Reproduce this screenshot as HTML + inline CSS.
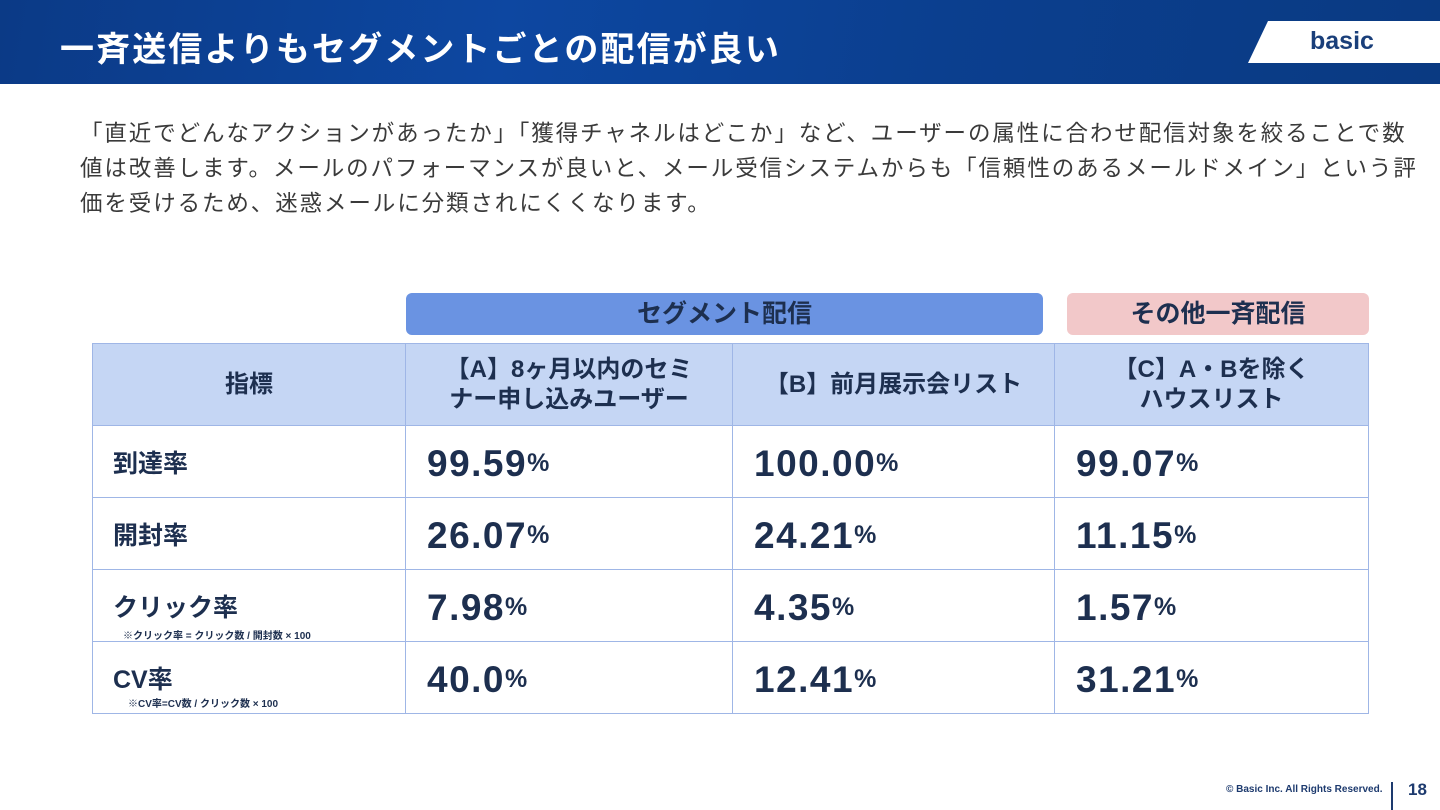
<!DOCTYPE html>
<html><head><meta charset="utf-8"><style>
*{margin:0;padding:0;box-sizing:border-box}
body{width:1440px;height:810px;background:#fff;position:relative;overflow:hidden;font-family:"Liberation Sans","Noto Sans CJK JP",sans-serif}
.hd{position:absolute;left:0;top:0;width:1440px;height:84px;background:linear-gradient(100deg,#0b3a86 0%,#0d47a1 35%,#0b3f8f 65%,#0a3a82 100%)}
.title{position:absolute;left:60px;top:22px;color:#fff;font-size:34px;font-weight:bold;letter-spacing:2.1px;white-space:nowrap}
.logo{position:absolute;left:1248px;top:21px;width:192px;height:42px;background:#fff;clip-path:polygon(20px 0,100% 0,100% 100%,0 100%)}
.logo span{position:absolute;left:62px;top:6px;font-size:25px;font-weight:bold;color:#1a3f7a}
.body{position:absolute;left:80px;top:116px;font-size:22.5px;line-height:35px;color:#3a3a3a;letter-spacing:1.9px;white-space:nowrap}
.abs{position:absolute}
.bar{position:absolute;top:293px;height:42px;border-radius:6px;font-weight:bold;font-size:25px;color:#1d2f4f;text-align:center;line-height:42px}
.cell{position:absolute;border:1px solid #9fb6e6;display:flex;align-items:center;color:#1d2f4f;font-weight:bold}
.hc{background:#c5d6f4;justify-content:center;text-align:center;font-size:24px;line-height:30px}
.v{font-size:37px;padding-left:21px;padding-top:4px;letter-spacing:1.5px}
.v small{font-size:25px;letter-spacing:0}
.lab{font-size:25px;padding-left:20px}
.note{position:absolute;font-size:10px;color:#1d2f4f;font-weight:bold}
</style></head><body>
<div class="hd"></div>
<div class="title">一斉送信よりもセグメントごとの配信が良い</div>
<div class="logo"><span>basic</span></div>
<div class="body">「直近でどんなアクションがあったか」「獲得チャネルはどこか」など、ユーザーの属性に合わせ配信対象を絞ることで数<br>値は改善します。メールのパフォーマンスが良いと、メール受信システムからも「信頼性のあるメールドメイン」という評<br>価を受けるため、迷惑メールに分類されにくくなります。</div>
<div class="bar" style="left:406px;width:637px;background:#6a93e2">セグメント配信</div>
<div class="bar" style="left:1067px;width:302px;background:#f2c8c9">その他一斉配信</div>

<div class="cell hc" style="left:92px;top:343px;width:314px;height:83px">指標</div>
<div class="cell hc" style="left:405px;top:343px;width:328px;height:83px">【A】8ヶ月以内のセミ<br>ナー申し込みユーザー</div>
<div class="cell hc" style="left:732px;top:343px;width:323px;height:83px">【B】前月展示会リスト</div>
<div class="cell hc" style="left:1054px;top:343px;width:315px;height:83px">【C】A・Bを除く<br>ハウスリスト</div>

<div class="cell lab" style="left:92px;top:425px;width:314px;height:73px">到達率</div>
<div class="cell v" style="left:405px;top:425px;width:328px;height:73px">99.59<small>%</small></div>
<div class="cell v" style="left:732px;top:425px;width:323px;height:73px">100.00<small>%</small></div>
<div class="cell v" style="left:1054px;top:425px;width:315px;height:73px">99.07<small>%</small></div>

<div class="cell lab" style="left:92px;top:497px;width:314px;height:73px">開封率</div>
<div class="cell v" style="left:405px;top:497px;width:328px;height:73px">26.07<small>%</small></div>
<div class="cell v" style="left:732px;top:497px;width:323px;height:73px">24.21<small>%</small></div>
<div class="cell v" style="left:1054px;top:497px;width:315px;height:73px">11.15<small>%</small></div>

<div class="cell lab" style="left:92px;top:569px;width:314px;height:73px;align-items:flex-start;padding-top:18px">クリック率</div>
<div class="note" style="left:123px;top:627px">※クリック率 = クリック数 / 開封数 × 100</div>
<div class="cell v" style="left:405px;top:569px;width:328px;height:73px">7.98<small>%</small></div>
<div class="cell v" style="left:732px;top:569px;width:323px;height:73px">4.35<small>%</small></div>
<div class="cell v" style="left:1054px;top:569px;width:315px;height:73px">1.57<small>%</small></div>

<div class="cell lab" style="left:92px;top:641px;width:314px;height:73px;align-items:flex-start;padding-top:18px">CV率</div>
<div class="note" style="left:128px;top:695px">※CV率=CV数 / クリック数 × 100</div>
<div class="cell v" style="left:405px;top:641px;width:328px;height:73px">40.0<small>%</small></div>
<div class="cell v" style="left:732px;top:641px;width:323px;height:73px">12.41<small>%</small></div>
<div class="cell v" style="left:1054px;top:641px;width:315px;height:73px">31.21<small>%</small></div>

<div class="abs" style="left:1226px;top:784px;font-size:10px;font-weight:bold;color:#1d3a6e">© Basic Inc. All Rights Reserved.</div>
<div class="abs" style="left:1391px;top:782px;width:2px;height:28px;background:#1d3a6e"></div>
<div class="abs" style="left:1408px;top:780px;font-size:17px;font-weight:bold;color:#1d3a6e">18</div>
</body></html>
